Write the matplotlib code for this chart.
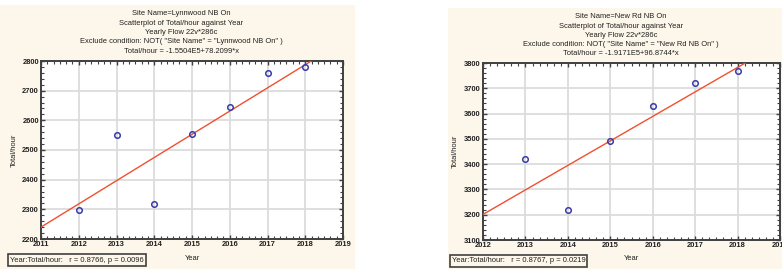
import numpy as np
import matplotlib.pyplot as plt
from matplotlib.patches import Rectangle
from matplotlib.ticker import AutoMinorLocator, MultipleLocator

# ===================== Dados =====================

anos_lynnwood = [2012, 2013, 2014, 2015, 2016, 2017, 2018]
total_lynnwood = [2298, 2550, 2318, 2553, 2645, 2760, 2780]
coef_lynnwood = (-1.5504e5, 78.2099)
titulo_lynnwood = ["Site Name=Lynnwood NB On",
                   "Scatterplot of Total/hour against Year",
                   "Yearly Flow 22v*286c",
                   'Exclude condition: NOT( "Site Name" = "Lynnwood NB On" )',
                   "Total/hour = -1.5504E5+78.2099*x"]
stat_lynnwood = "Year:Total/hour:   r = 0.8766, p = 0.0096"

anos_newrd = [2013, 2014, 2015, 2016, 2017, 2018]
total_newrd = [3422, 3220, 3490, 3630, 3722, 3770]
coef_newrd = (-1.9171e5, 96.8744)
titulo_newrd = ["Site Name=New Rd NB On",
                "Scatterplot of Total/hour against Year",
                "Yearly Flow 22v*286c",
                'Exclude condition: NOT( "Site Name" = "New Rd NB On" )',
                "Total/hour = -1.9171E5+96.8744*x"]
stat_newrd = "Year:Total/hour:   r = 0.8767, p = 0.0219"

plt.rcParams['font.family'] = ['Liberation Sans', 'DejaVu Sans']

W, H = 782, 269
fig = plt.figure(figsize=(W / 100, H / 100), dpi=100)
fig.patch.set_facecolor('white')

BEGE = '#FCF7EA'
FS = 5.4


def px(x0, y0, x1, y1):
    # caixa em pixels (origem no topo) -> fracao da figura
    return [x0 / W, 1 - y1 / H, (x1 - x0) / W, (y1 - y0) / H]


def painel(caixa_fundo, caixa_eixo, anos, total, coef, xlim, ylim,
           titulo, tit_x, tit_y0, ylab_x, xlab_y, stat, stat_caixa):
    l, b, w, h = px(*caixa_fundo)
    fig.patches.append(Rectangle((l, b), w, h, transform=fig.transFigure,
                                 facecolor=BEGE, edgecolor='none', zorder=-5))
    ax = fig.add_axes(px(*caixa_eixo))
    ax.set_facecolor('white')
    ax.set_xlim(*xlim)
    ax.set_ylim(*ylim)
    ax.xaxis.set_major_locator(MultipleLocator(1))
    ax.yaxis.set_major_locator(MultipleLocator(100))
    ax.xaxis.set_minor_locator(AutoMinorLocator(6))
    ax.yaxis.set_minor_locator(AutoMinorLocator(5))
    ax.grid(True, which='major', color='#DCDCDC', lw=1.3)
    ax.set_axisbelow(True)
    for s in ax.spines.values():
        s.set_color('#404040')
        s.set_linewidth(1.4)
    ax.tick_params(which='both', direction='in', top=True, right=True,
                   color='#404040', labelsize=FS, pad=1.5, labelcolor='#202020')
    ax.tick_params(which='major', length=3, width=1)
    ax.tick_params(which='minor', length=2, width=0.8)
    for lab in ax.get_xticklabels() + ax.get_yticklabels():
        lab.set_fontweight('bold')

    xs = np.linspace(xlim[0], xlim[1], 50)
    ax.plot(xs, coef[0] + coef[1] * xs, color='#F05030', lw=1.0, zorder=3)
    ax.plot(anos, total, 'o', ms=4, mfc='none', mec='#3A3AA8', mew=1.1,
            zorder=4, clip_on=False)

    for i, linha in enumerate(titulo):
        fig.text(tit_x / W, 1 - (tit_y0 + i * 9.3) / H, linha, ha='center',
                 va='center', fontsize=FS, color='#202020')

    yc = (caixa_eixo[1] + caixa_eixo[3]) / 2
    fig.text(ylab_x / W, 1 - yc / H, 'Total/hour', rotation=90, ha='center',
             va='center', fontsize=FS, color='#202020')
    xc = (caixa_eixo[0] + caixa_eixo[2]) / 2
    fig.text(xc / W, 1 - xlab_y / H, 'Year', ha='center', va='center',
             fontsize=FS, color='#202020')

    x0, y0, x1, y1 = stat_caixa
    l, b, w, h = px(x0, y0, x1, y1)
    fig.patches.append(Rectangle((l, b), w, h, transform=fig.transFigure,
                                 facecolor='none', edgecolor='#404040', lw=1.2))
    fig.text((x0 + x1) / 2 / W, 1 - (y0 + y1) / 2 / H, stat, ha='center',
             va='center', fontsize=FS, color='#202020')
    return ax


painel((0, 5, 355, 269), (41, 61, 343, 239), anos_lynnwood, total_lynnwood,
       coef_lynnwood, (2011, 2019), (2200, 2800), titulo_lynnwood,
       181, 14, 14, 258, stat_lynnwood, (8, 254, 146, 266))

painel((448, 8, 782, 269), (483, 63, 780, 240), anos_newrd, total_newrd,
       coef_newrd, (2012, 2019), (3100, 3800), titulo_newrd,
       621, 16.7, 455, 259, stat_newrd, (450, 255, 587, 267))

fig.savefig('out.png', dpi=100)
